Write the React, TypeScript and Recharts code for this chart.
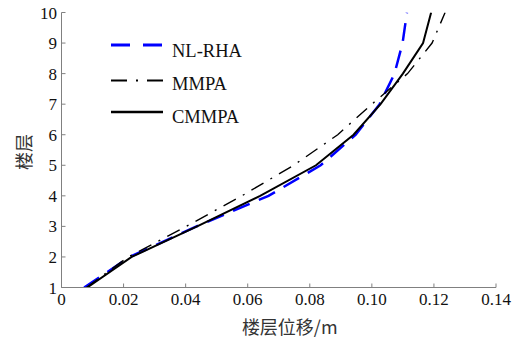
import { LineChart, Line, XAxis, YAxis } from 'recharts';

// storey numbers and peak storey displacement (m) per method
const floors = [1, 2, 3, 4, 5, 6, 7, 8, 9, 10];
const nlrha = [0.0073, 0.022, 0.0435, 0.0667, 0.0835, 0.0948, 0.1025, 0.1073, 0.1099, 0.1113];
const mmpa = [0.008, 0.0215, 0.0402, 0.0581, 0.0748, 0.089, 0.1, 0.1115, 0.1194, 0.1236];
const cmmpa = [0.0083, 0.0226, 0.0437, 0.064, 0.082, 0.0941, 0.1028, 0.11, 0.1165, 0.1191];

const xTicks = [0, 0.02, 0.04, 0.06, 0.08, 0.1, 0.12, 0.14];
const yTicks = [1, 2, 3, 4, 5, 6, 7, 8, 9, 10];

const toPoints = (xs: number[]) => floors.map((floor, i) => ({ x: xs[i], floor }));

const series = [
  { name: 'NL-RHA', data: toPoints(nlrha), color: '#0000ff', width: 2.5, dash: '18 10', legendDash: '19 13' },
  { name: 'MMPA', data: toPoints(mmpa), color: '#000000', width: 1.4, dash: '14 8 2 8', legendDash: '16 9 2 9' },
  { name: 'CMMPA', data: toPoints(cmmpa), color: '#000000', width: 2, dash: undefined, legendDash: undefined },
];

const serif = '"Liberation Serif", "Times New Roman", serif';
const cjk = '"Noto Sans CJK SC", sans-serif';
const axisColor = '#808080';

function XTick({ x, y, payload }: any) {
  const v = payload.value as number;
  return (
    <text x={x} y={y + 19} textAnchor="middle" fontSize={17} fill="#111" style={{ fontFamily: serif }}>
      {v === 0 ? '0' : v.toFixed(2)}
    </text>
  );
}

function YTick({ y, payload }: any) {
  return (
    <text x={57} y={y + 6} textAnchor="end" fontSize={17} fill="#111" style={{ fontFamily: serif }}>
      {payload.value}
    </text>
  );
}

function LegendBox() {
  const lineY = [15, 50.5, 82];
  const textY = [26.5, 60, 93];
  return (
    <svg width={180} height={110} style={{ position: 'absolute', left: 100, top: 30 }}>
      {series.map((s, i) => (
        <g key={s.name}>
          <line
            x1={11}
            x2={63}
            y1={lineY[i]}
            y2={lineY[i]}
            stroke={s.color}
            strokeWidth={s.width + 0.5}
            strokeDasharray={s.legendDash}
          />
          <text x={72} y={textY[i]} fontSize={18.5} fill="#111" style={{ fontFamily: serif }}>
            {s.name}
          </text>
        </g>
      ))}
    </svg>
  );
}

export default function App() {
  return (
    <div style={{ position: 'absolute', left: 0, top: 0, width: 521, height: 340, background: '#fff' }}>
      <LineChart
        width={521}
        height={340}
        margin={{ top: 12.5, right: 25, bottom: 0, left: 0 }}
        style={{ fontFamily: serif }}
      >
        <XAxis
          type="number"
          dataKey="x"
          domain={[0, 0.14]}
          ticks={xTicks}
          interval={0}
          allowDataOverflow
          height={52.5}
          stroke={axisColor}
          tickSize={-4}
          tick={<XTick />}
          label={({ viewBox }: any) => (
            <text
              x={viewBox.x + viewBox.width / 2 + 11}
              y={334}
              textAnchor="middle"
              fontSize={18}
              fill="#333"
              style={{ fontFamily: cjk }}
            >
              楼层位移/m
            </text>
          )}
        />
        <YAxis
          type="number"
          dataKey="floor"
          domain={[1, 10]}
          ticks={yTicks}
          interval={0}
          allowDataOverflow
          width={61.5}
          stroke={axisColor}
          tickSize={-4}
          tick={<YTick />}
          label={({ viewBox }: any) => (
            <text
              x={31}
              y={viewBox.y + viewBox.height / 2 + 2}
              textAnchor="middle"
              transform={`rotate(-90, 31, ${viewBox.y + viewBox.height / 2 + 2})`}
              fontSize={18}
              fill="#333"
              style={{ fontFamily: cjk }}
            >
              楼层
            </text>
          )}
        />
        {series.map((s) => (
          <Line
            key={s.name}
            name={s.name}
            data={s.data}
            dataKey="floor"
            type="linear"
            stroke={s.color}
            strokeWidth={s.width}
            strokeDasharray={s.dash}
            dot={false}
            activeDot={false}
            isAnimationActive={false}
          />
        ))}
      </LineChart>
      <LegendBox />
    </div>
  );
}
